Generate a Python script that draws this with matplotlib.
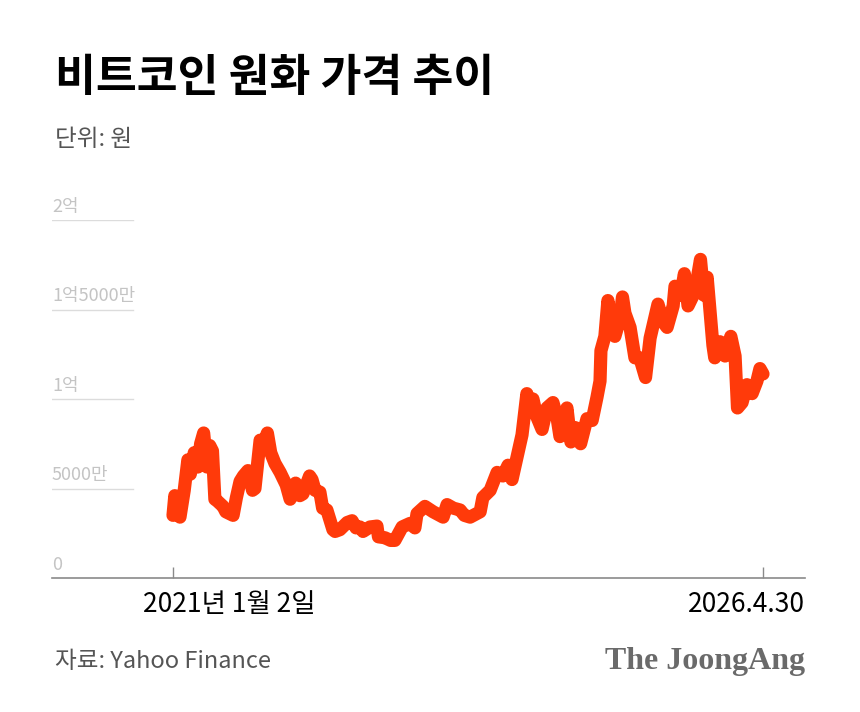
import matplotlib
matplotlib.use('Agg')
import matplotlib.pyplot as plt
import pandas as pd

plt.rcParams['font.family'] = ['Noto Sans CJK KR', 'DejaVu Sans']

# 비트코인 원화 가격 (단위: 만원), 그림에서 읽은 값
dates = [
    '2021-01-02', '2021-01-08', '2021-01-14', '2021-01-25', '2021-02-08', '2021-02-20',
    '2021-02-28', '2021-03-13', '2021-03-25', '2021-04-03', '2021-04-13', '2021-04-24',
    '2021-05-03', '2021-05-12', '2021-05-20', '2021-05-28', '2021-06-16', '2021-06-25',
    '2021-07-19', '2021-07-30', '2021-08-11', '2021-08-22', '2021-09-06', '2021-09-21',
    '2021-09-29', '2021-10-16', '2021-10-25', '2021-11-09', '2021-11-20', '2021-12-04',
    '2021-12-21', '2022-01-10', '2022-01-23', '2022-02-10', '2022-02-24', '2022-03-06',
    '2022-03-28', '2022-04-05', '2022-04-15', '2022-05-01', '2022-05-10', '2022-05-24',
    '2022-06-13', '2022-06-20', '2022-07-06', '2022-07-30', '2022-08-15', '2022-08-28',
    '2022-09-10', '2022-09-20', '2022-10-13', '2022-11-05', '2022-11-10', '2022-12-01',
    '2022-12-20', '2023-01-03', '2023-01-27', '2023-02-22', '2023-03-10', '2023-03-17',
    '2023-04-12', '2023-05-09', '2023-06-11', '2023-06-24', '2023-07-15', '2023-08-06',
    '2023-08-20', '2023-09-08', '2023-10-11', '2023-10-20', '2023-11-13', '2023-12-06',
    '2023-12-25', '2024-01-11', '2024-01-24', '2024-02-09', '2024-02-26', '2024-03-13',
    '2024-03-20', '2024-04-02', '2024-04-15', '2024-05-02', '2024-05-18', '2024-06-07',
    '2024-06-20', '2024-06-30', '2024-07-23', '2024-08-05', '2024-08-20', '2024-09-06',
    '2024-09-27', '2024-10-14', '2024-10-30', '2024-11-09', '2024-11-12', '2024-11-25',
    '2024-12-05', '2024-12-20', '2024-12-28', '2025-01-14', '2025-01-22', '2025-01-30',
    '2025-02-16', '2025-03-04', '2025-03-20', '2025-04-08', '2025-04-23', '2025-05-19',
    '2025-06-05', '2025-06-18', '2025-07-08', '2025-07-14', '2025-08-02', '2025-08-14',
    '2025-08-26', '2025-09-18', '2025-10-06', '2025-10-17', '2025-10-28', '2025-11-06',
    '2025-11-16', '2025-11-22', '2025-12-09', '2025-12-26', '2026-01-14', '2026-01-28',
    '2026-02-05', '2026-02-20', '2026-03-08', '2026-03-25', '2026-04-10', '2026-04-20',
    '2026-04-30',
]
prices = [
    3500, 4600, 3600, 3400, 4900, 6600,
    5800, 7000, 6200, 7500, 8100, 6200,
    7400, 7100, 4400, 4300, 4000, 3700,
    3500, 4500, 5400, 5700, 6000, 4900,
    5000, 7700, 7400, 8100, 7000, 6400,
    5900, 5200, 4400, 5300, 4600, 4700,
    5700, 5500, 4900, 4800, 3900, 3800,
    2700, 2600, 2700, 3100, 3200, 2800,
    2850, 2600, 2850, 2900, 2300, 2250,
    2100, 2100, 2850, 3050, 2800, 3600,
    4000, 3700, 3400, 4100, 3900, 3800,
    3500, 3400, 3700, 4500, 4900, 5900,
    5700, 6300, 5500, 6700, 8000, 10300,
    9300, 10000, 9000, 8300, 9500, 9800,
    9000, 7900, 9500, 7600, 8400, 7500,
    8900, 8800, 10100, 11000, 12700, 13500,
    15500, 13800, 13500, 14500, 15700, 14800,
    14000, 12300, 12300, 11200, 13400, 15300,
    14300, 14000, 15200, 16300, 15800, 17000,
    15200, 16000, 17800, 15800, 16800, 15000,
    13000, 12300, 13200, 12400, 13500, 12400,
    9500, 9800, 10800, 10300, 11000, 11700,
    11400,
]

y_ticks = [0, 5000, 10000, 15000, 20000]
y_labels = ['0', '5000만', '1억', '1억5000만', '2억']
x_labels = ['2021년 1월 2일', '2026.4.30']

dates = pd.to_datetime(dates)

W, H = 860, 712
fig = plt.figure(figsize=(W / 100, H / 100), dpi=100)
fig.patch.set_facecolor('white')

# 축 영역: 픽셀 52~805 (가로), 578~220 (세로)
ax = fig.add_axes([52 / W, (H - 578) / H, (805 - 52) / W, (578 - 220) / H])
ax.set_ylim(0, 20000)

# x 범위: 첫 날짜는 173px, 마지막 날짜는 763px 위치
span = (dates[-1] - dates[0]) / (763 - 173)
ax.set_xlim(dates[0] - span * (173 - 52), dates[-1] + span * (805 - 763))

# 짧은 눈금선과 라벨
for v, lab in zip(y_ticks, y_labels):
    if v > 0:
        ax.axhline(v, xmin=0, xmax=(133 - 52) / (805 - 52), color='#dcdcdc', lw=1.0, zorder=1)
    ax.text(0, v + 250, lab, transform=ax.get_yaxis_transform(), ha='left', va='bottom',
            fontsize=13, color='#c4c4c4')

ax.plot(dates, prices, color='#FF3A0A', lw=9.5, solid_joinstyle='round',
        solid_capstyle='round', zorder=3, clip_on=False)

for s in ['top', 'right', 'left']:
    ax.spines[s].set_visible(False)
ax.spines['bottom'].set_color('#8a8a8a')
ax.spines['bottom'].set_linewidth(1.2)
ax.set_yticks([])
ax.set_xticks([dates[0], dates[-1]])
ax.set_xticklabels([])
ax.tick_params(axis='x', direction='in', length=8, width=1, color='#8a8a8a')

# x 라벨
fig.text(143 / W, 1 - 604 / H, x_labels[0], ha='left', va='center', fontsize=19,
         fontweight='medium', color='black')
fig.text(805 / W, 1 - 604 / H, x_labels[1], ha='right', va='center', fontsize=19,
         fontweight='medium', color='black')

# 제목, 단위
fig.text(55 / W, 1 - 78 / H, '비트코인 원화 가격 추이', ha='left', va='center',
         fontsize=32, fontweight='heavy', color='black')
fig.text(55 / W, 1 - 140 / H, '단위: 원', ha='left', va='center', fontsize=17, color='#555555')

# 출처, 로고
fig.text(55 / W, 1 - 662 / H, '자료: Yahoo Finance', ha='left', va='center',
         fontsize=17, color='#555555')
fig.text(805 / W, 1 - 662 / H, 'The JoongAng', ha='right', va='center',
         fontsize=23, fontweight='bold', color='#6a6a6a', family='Liberation Serif')

fig.savefig('out.png', dpi=100, facecolor='white')
